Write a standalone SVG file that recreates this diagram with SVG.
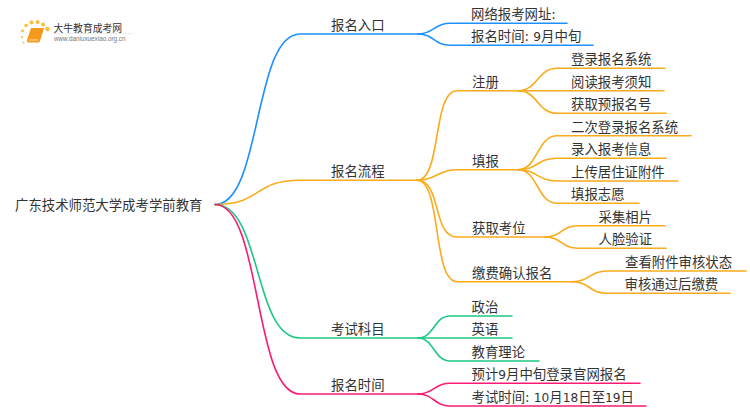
<svg xmlns="http://www.w3.org/2000/svg" width="750" height="410" viewBox="0 0 750 410">
<style>
text{font-family:"DejaVu Sans","Noto Sans CJK SC",sans-serif;font-size:13.4px;fill:#333}
.d{font-size:12.2px}
#connectors path{fill:none;stroke-width:1.6;stroke-linecap:round}
.b path{stroke:#1e90ff}.o path{stroke:#faab1c}.g path{stroke:#1ec882}.p path{stroke:#fb1a74}
</style>
<rect width="750" height="410" fill="#fff"/>
<g id="connectors">
<g class="b">
<path d="M215 204.5C262 204.5 253 34 300 34H418"/>
<path d="M418 34C434 34 434 23.3 450 23.3H567"/>
<path d="M418 34C434 34 434 45.3 450 45.3H593"/>
</g>
<g class="o">
<path d="M215 204.5C262 204.5 253 180.3 300 180.3H417"/>
<path d="M417 180.3C442 180.3 432 90.7 457 90.7H518"/>
<path d="M417 180.3C437 180.3 437 169.7 457 169.7H518"/>
<path d="M417 180.3C442 180.3 432 237 457 237H545"/>
<path d="M417 180.3C442 180.3 432 281.7 457 281.7H572"/>
<path d="M518 90.7C538 90.7 537 68.3 557 68.3H665"/>
<path d="M518 90.7H664"/>
<path d="M518 90.7C538 90.7 537 113.3 557 113.3H666"/>
<path d="M518 169.7C538 169.7 537 135.7 557 135.7H691"/>
<path d="M518 169.7C538 169.7 537 158.3 557 158.3H666"/>
<path d="M518 169.7C538 169.7 537 181 557 181H678"/>
<path d="M518 169.7C538 169.7 537 203.3 557 203.3H639"/>
<path d="M545 237C562 237 561 225.7 578 225.7H665"/>
<path d="M545 237C562 237 561 248.3 578 248.3H666"/>
<path d="M572 281.7C590 281.7 589 271 607 271H746"/>
<path d="M572 281.7C590 281.7 589 293.3 607 293.3H730"/>
</g>
<g class="g">
<path d="M215 204.5C262 204.5 253 338 300 338H418"/>
<path d="M418 338C434 338 434 316 450 316H512"/>
<path d="M418 338H512"/>
<path d="M418 338C434 338 434 361 450 361H539"/>
</g>
<g class="p">
<path d="M215 204.5C262 204.5 253 394 300 394H418"/>
<path d="M418 394C434 394 434 383.3 450 383.3H640"/>
<path d="M418 394C434 394 434 406 450 406H646"/>
</g>
</g>
<g id="logo">
<g fill="#fbbf3a"><circle cx="26" cy="25.500" r="1.800"/><circle cx="31.500" cy="22.500" r="2"/><circle cx="37.500" cy="22" r="2"/><circle cx="43" cy="24.500" r="2"/><circle cx="47.500" cy="29" r="2.300"/><circle cx="22.500" cy="31" r="1.400"/><circle cx="22" cy="37" r="1.100"/><circle cx="23.500" cy="42.500" r="1"/></g>
<path d="M31 28H43.500Q44 28 43.500 30L40 41Q39.500 42.500 38 42.500H29Q26.500 42.500 27 40Z" fill="#f59a1d"/>
<path d="M29 40H38" stroke="#fde3b0" stroke-width="1"/>
<path d="M53 33.500H133" stroke="#e8e8e8" stroke-width="0.800"/>
<text x="53.500" y="32" style="font-family:'Noto Sans CJK SC',sans-serif;font-size:9.800px">大牛教育成考网</text>
<text x="54" y="41" style="font-family:'Liberation Sans',sans-serif;font-size:6.300px;fill:#777">www.daniuxuexiao.org.cn</text>
</g>
<g id="root"><text x="15" y="210">广东技术师范大学成考学前教育</text></g>
<g id="n1"><text x="331" y="30">报名入口</text></g>
<g id="n1-1"><text x="471" y="19">网络报考网址:</text></g>
<g id="n1-2"><text x="471" y="41">报名时间: <tspan class="d">9</tspan>月中旬</text></g>
<g id="n2"><text x="331" y="176">报名流程</text></g>
<g id="n2-1"><text x="472" y="86.500">注册</text></g>
<g id="n2-1-1"><text x="571" y="64">登录报名系统</text></g>
<g id="n2-1-2"><text x="571" y="86.500">阅读报考须知</text></g>
<g id="n2-1-3"><text x="571" y="109">获取预报名号</text></g>
<g id="n2-2"><text x="472" y="165.500">填报</text></g>
<g id="n2-2-1"><text x="571" y="131.500">二次登录报名系统</text></g>
<g id="n2-2-2"><text x="571" y="154">录入报考信息</text></g>
<g id="n2-2-3"><text x="571" y="176.500">上传居住证附件</text></g>
<g id="n2-2-4"><text x="571" y="199">填报志愿</text></g>
<g id="n2-3"><text x="472" y="233">获取考位</text></g>
<g id="n2-3-1"><text x="598.500" y="221.500">采集相片</text></g>
<g id="n2-3-2"><text x="598.500" y="244">人脸验证</text></g>
<g id="n2-4"><text x="472" y="277.500">缴费确认报名</text></g>
<g id="n2-4-1"><text x="625" y="266.500">查看附件审核状态</text></g>
<g id="n2-4-2"><text x="624.500" y="289">审核通过后缴费</text></g>
<g id="n3"><text x="331" y="334">考试科目</text></g>
<g id="n3-1"><text x="471.500" y="312">政治</text></g>
<g id="n3-2"><text x="471.500" y="334">英语</text></g>
<g id="n3-3"><text x="471.500" y="357">教育理论</text></g>
<g id="n4"><text x="331" y="390">报名时间</text></g>
<g id="n4-1"><text x="471.500" y="379">预计<tspan class="d">9</tspan>月中旬登录官网报名</text></g>
<g id="n4-2"><text x="471.500" y="402">考试时间: <tspan class="d">10</tspan>月<tspan class="d">18</tspan>日至<tspan class="d">19</tspan>日</text></g>
</svg>
